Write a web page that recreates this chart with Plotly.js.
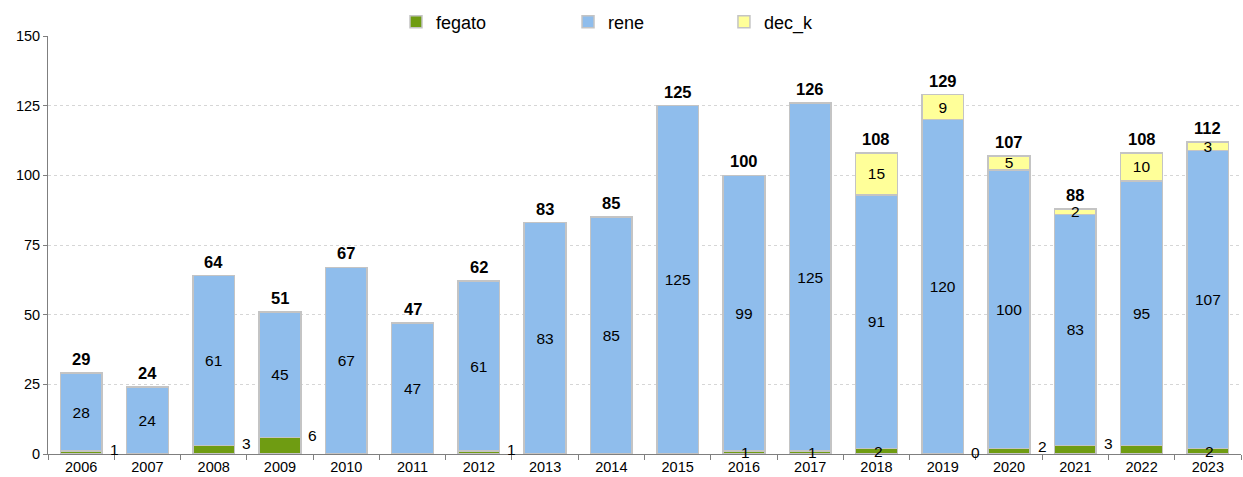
<!DOCTYPE html>
<html><head><meta charset="utf-8">
<script src="https://cdn.plot.ly/plotly-3.0.1.min.js"></script>
<style>html,body{margin:0;padding:0;background:#fff}#chart{width:1243px;height:477px}</style>
</head><body><div id="chart"></div>
<script>
// ---- data ----
const years = ['2006','2007','2008','2009','2010','2011','2012','2013','2014','2015','2016','2017','2018','2019','2020','2021','2022','2023'];
const fegato = [1,0,3,6,0,0,1,0,0,0,1,1,2,0,2,3,3,2];
const rene   = [28,24,61,45,67,47,61,83,85,125,99,125,91,120,100,83,95,107];
const decK   = [0,0,0,0,0,0,0,0,0,0,0,0,15,9,5,2,10,3];
const totals = [29,24,64,51,67,47,62,83,85,125,100,126,108,129,107,88,108,112];
// where the fegato value label sits for each year
const fegatoLabelPlace = ['right','none','right','right','none','none','right','none','none','none','center','center','center','right','right','right','none','center'];

// ---- styles ----
const FONT = 'Liberation Sans, Arial, sans-serif';
const lineStyle = {color:'#c4c4c4', width:1.5};
const nz = a => a.map(v => v === 0 ? null : v);
const segFont = {family:FONT, size:15.5, color:'#000'};

const traces = [
  {type:'bar', name:'fegato', x:years, y:nz(fegato), legend:'legend',
   marker:{color:'#6f9c12', line:lineStyle}, hoverinfo:'x+y'},
  {type:'bar', name:'rene', x:years, y:rene, legend:'legend2',
   text:rene.map(String), textposition:'inside', insidetextanchor:'middle', textangle:0,
   textfont:segFont, constraintext:'none',
   marker:{color:'#8fbdec', line:lineStyle}, hoverinfo:'x+y'},
  {type:'bar', name:'dec_k', x:years, y:nz(decK), legend:'legend3',
   text:decK.map(v => v ? String(v) : ''), textposition:'inside', insidetextanchor:'middle', textangle:0,
   textfont:segFont, constraintext:'none',
   marker:{color:'#ffff99', line:lineStyle}, hoverinfo:'x+y'}
];

const annotations = [];
years.forEach((yr, i) => {
  annotations.push({x:i, y:totals[i], xref:'x', yref:'y', text:'<b>'+totals[i]+'</b>',
    showarrow:false, yanchor:'bottom', yshift:3, font:{family:FONT, size:16.5, color:'#000'}});
  const p = fegatoLabelPlace[i];
  if (p !== 'none') {
    annotations.push({x:i, y:p === 'center' ? fegato[i]/2 : fegato[i], xref:'x', yref:'y',
      text:String(fegato[i]), showarrow:false, yanchor:'middle',
      xshift: p === 'right' ? 33 : 2, yshift: p === 'right' ? 2 : 0,
      font:segFont});
  }
});

const legendBase = {orientation:'h', xanchor:'left', y:1.0335, yanchor:'middle',
  font:{family:FONT, size:18, color:'#000'}, bgcolor:'rgba(0,0,0,0)', itemwidth:30};

const layout = {
  width:1243, height:477,
  margin:{l:48, r:2, t:36, b:23},
  paper_bgcolor:'#fff', plot_bgcolor:'#fff',
  barmode:'stack', bargap:0.37,
  font:{family:FONT, color:'#000'},
  uniformtext:{mode:'show', minsize:15.5},
  showlegend:true,
  legend:Object.assign({x:0.2917}, legendBase),
  legend2:Object.assign({x:0.4359}, legendBase),
  legend3:Object.assign({x:0.5666}, legendBase),
  xaxis:{type:'category', range:[-0.5, 17.5], showline:true, linecolor:'#7f7f7f', linewidth:1,
    ticks:'outside', tickson:'boundaries', ticklen:5, tickcolor:'#7f7f7f',
    tickfont:{family:FONT, size:14.5, color:'#000'}, showgrid:false, fixedrange:true},
  yaxis:{range:[0,150], tickvals:[0,25,50,75,100,125,150], showline:true, linecolor:'#7f7f7f',
    linewidth:1, ticks:'outside', ticklen:4, tickcolor:'#7f7f7f',
    showgrid:true, gridcolor:'#d6d6d6', griddash:'dot', gridwidth:1, zeroline:false,
    tickfont:{family:FONT, size:14.5, color:'#000'}, fixedrange:true},
  annotations:annotations
};

Plotly.newPlot('chart', traces, layout, {displayModeBar:false, staticPlot:true});
</script>
</body></html>
